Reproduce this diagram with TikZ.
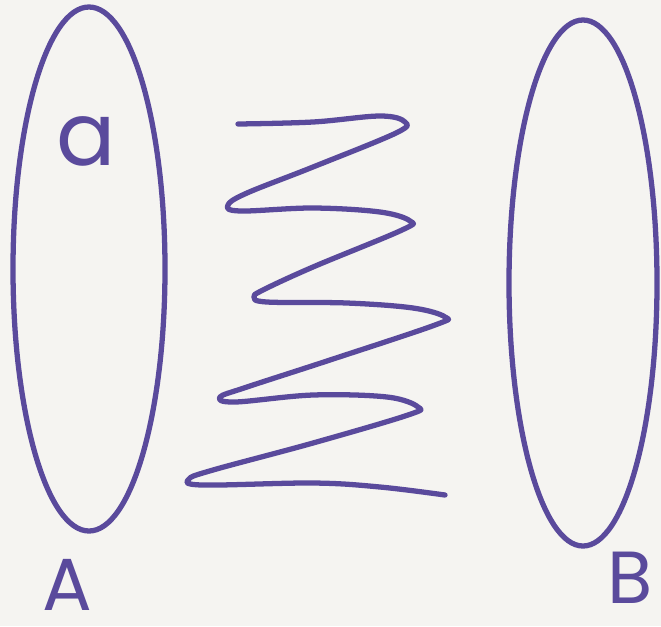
\documentclass[tikz,border=0pt]{standalone}
\usepackage{fontspec}
\usepackage{tikz}
\usetikzlibrary{positioning,shapes.geometric}
\newfontfamily\handfont{Poppins}
\definecolor{inkpurple}{HTML}{5A4A9C}
\definecolor{paper}{HTML}{F5F4F1}
\tikzset{
  setshape/.style={draw=inkpurple,ellipse,line width=3pt,inner sep=0pt},
  lbl/.style={text=inkpurple,font=\handfont\fontsize{42}{42}\selectfont,inner sep=0pt,anchor=base},
  squiggle/.style={draw=inkpurple,line width=3pt,line cap=round,line join=round},
}

\begin{document}
\begin{tikzpicture}[x=0.02cm,y=-0.02cm]
\fill[paper] (0,0) rectangle (661,626);
\useasboundingbox (0,0) rectangle (661,626);
\node[setshape,minimum width=152*0.02cm,minimum height=524*0.02cm] (setA) at (89,269) {};
\node[setshape,minimum width=148*0.02cm,minimum height=526*0.02cm] (setB) at (583,283) {};
\node[lbl,font=\handfont\fontsize{50}{50}\selectfont] (elem) at (86,165) {a};
\node[lbl] (nameA) at (67,610) {A};
\node[lbl] (nameB) at (630,603) {B};
% the map between the two sets
\draw[squiggle] plot[smooth,tension=0.6] coordinates {
  (238,124) (313,122) (380,116) (405,122) (396,133)
  (313,167) (247,193) (228,205) (240,211)
  (313,208) (380,212) (410,221) (402,230)
  (313,267) (263,290) (254,297) (267,302)
  (347,303) (413,308) (445,317) (435,325)
  (330,360) (247,387) (220,397) (235,402)
  (313,395) (387,397) (418,407) (408,415)
  (313,443) (213,470) (189,479) (202,485)
  (313,483) (380,487) (445,495)};
\end{tikzpicture}
\end{document}
